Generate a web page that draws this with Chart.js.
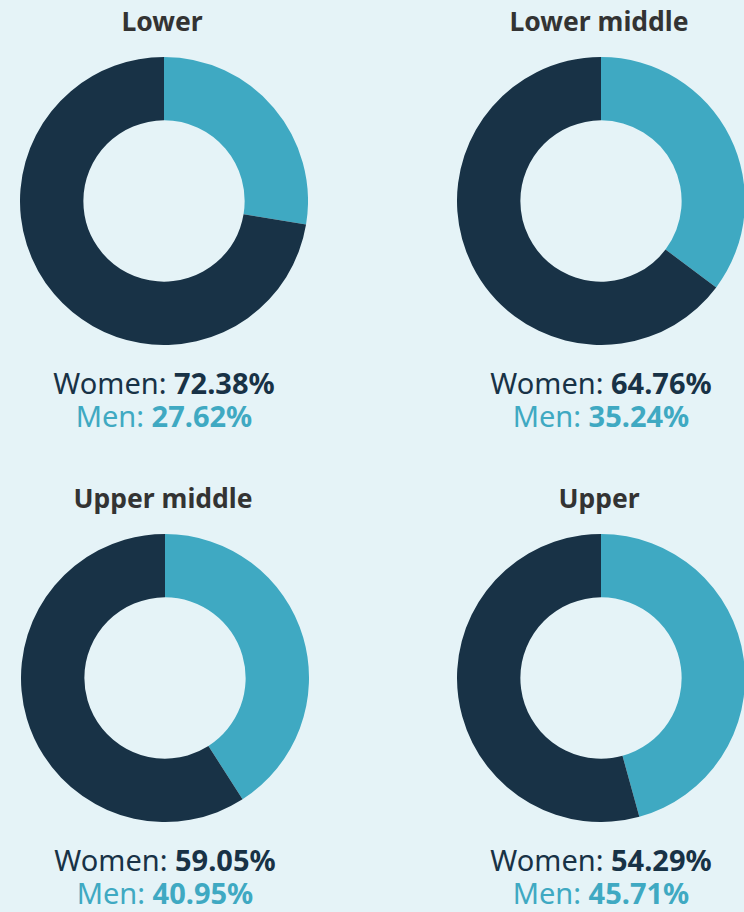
<!DOCTYPE html>
<html>
<head>
<meta charset="utf-8">
<script src="https://cdn.jsdelivr.net/npm/chart.js@4.4.1/dist/chart.umd.min.js"></script>
<style>
  html, body { margin: 0; padding: 0; }
  body {
    width: 744px; height: 912px; overflow: hidden;
    background: #e5f3f7;
    font-family: "Noto Sans", sans-serif;
    position: relative;
  }
  .title {
    position: absolute; width: 300px; text-align: center;
    font-weight: bold; font-size: 26.5px; color: #333333;
  }
  .box { position: absolute; width: 288px; height: 288px; }
  .lbl {
    position: absolute; width: 320px; text-align: center;
    font-size: 29px; line-height: 33px;
  }
  .lbl .w { color: #183246; }
  .lbl .m { color: #3fa9c2; }
  .lbl b { font-weight: bold; }
</style>
</head>
<body>
<script>
const bands = ['Lower', 'Lower middle', 'Upper middle', 'Upper'];
const women = [72.38, 64.76, 59.05, 54.29];
const men = [27.62, 35.24, 40.95, 45.71];
const seriesNames = ['Men', 'Women'];
const colours = ['#3fa9c2', '#183246'];

// layout of the four panels (centre x, top of title)
const panels = [
  { cx: 164, top: 0 },
  { cx: 601, top: 0 },
  { cx: 165, top: 477 },
  { cx: 601, top: 477 }
];

bands.forEach(function(name, i) {
  const p = panels[i];

  const t = document.createElement('div');
  t.className = 'title';
  t.textContent = name;
  t.style.left = (p.cx - 152) + 'px';
  t.style.top = (p.top + 3) + 'px';
  document.body.appendChild(t);

  const box = document.createElement('div');
  box.className = 'box';
  box.style.left = (p.cx - 144) + 'px';
  box.style.top = (p.top + 57) + 'px';
  const cv = document.createElement('canvas');
  box.appendChild(cv);
  document.body.appendChild(box);

  const l = document.createElement('div');
  l.className = 'lbl';
  l.style.left = (p.cx - 160) + 'px';
  l.style.top = (p.top + 366) + 'px';
  l.innerHTML = '<div class="w">Women: <b>' + women[i].toFixed(2) + '%</b></div>' +
                '<div class="m">Men: <b>' + men[i].toFixed(2) + '%</b></div>';
  document.body.appendChild(l);

  new Chart(cv.getContext('2d'), {
    type: 'doughnut',
    data: {
      labels: seriesNames,
      datasets: [{
        data: [men[i], women[i]],
        backgroundColor: colours,
        borderWidth: 0
      }]
    },
    options: {
      responsive: true,
      maintainAspectRatio: false,
      animation: false,
      cutout: '56%',
      layout: { padding: 0 },
      plugins: {
        legend: { display: false },
        tooltip: { enabled: false }
      }
    }
  });
});
</script>
</body>
</html>
